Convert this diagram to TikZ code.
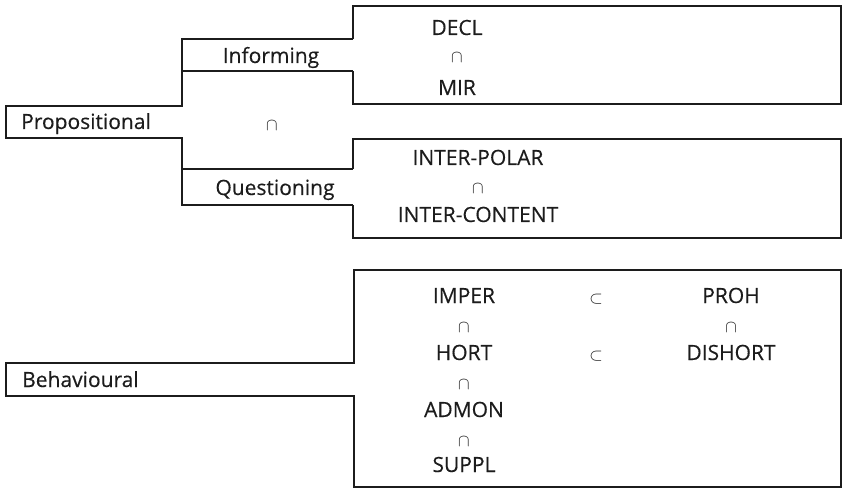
\documentclass[tikz,border=0pt]{standalone}
\usepackage{fontspec}
\setmainfont[FakeBold=0.35]{Open Sans}
\definecolor{ink}{HTML}{1C1C1C}
\begin{document}
\begin{tikzpicture}[x=1pt,y=-1pt,
  rule/.style={line width=2.2pt, draw=ink, line join=miter},
  lbl/.style={inner sep=0pt, anchor=base, text=ink, font=\fontsize{21}{25}\selectfont},
  lbll/.style={lbl, anchor=base west},
  rel/.style={inner sep=0pt, anchor=base, text=ink, font=\fontsize{19}{22}\selectfont}]
\useasboundingbox (0,0) rectangle (843,489);

% ---- Propositional network ----
\coordinate (pTR) at (182,106);
\coordinate (pTL) at (6,106);
\coordinate (pBL) at (6,138);
\coordinate (pBR) at (182,138);
\coordinate (inT) at (182,39);
\coordinate (inTR) at (353,39);
\coordinate (inB) at (182,71);
\coordinate (inBR) at (353,71);
\coordinate (qT) at (182,169);
\coordinate (qTR) at (353,169);
\coordinate (qB) at (182,205);
\coordinate (qBR) at (353,205);

\draw[rule] (inTR) -- (inT) -- (pTR) -- (pTL) -- (pBL) -- (pBR) -- (qB) -- (qBR);
\draw[rule] (inB) -- (inBR);
\draw[rule] (qT) -- (qTR);

% Informing options box
\coordinate (dTL) at (353,6);
\coordinate (dTR) at (841,6);
\coordinate (dBR) at (841,104);
\coordinate (dBL) at (353,104);
\draw[rule] (inTR) -- (dTL) -- (dTR) -- (dBR) -- (dBL) -- (inBR);

% Questioning options box
\coordinate (iTL) at (353,139);
\coordinate (iTR) at (841,139);
\coordinate (iBR) at (841,238);
\coordinate (iBL) at (353,238);
\draw[rule] (qTR) -- (iTL) -- (iTR) -- (iBR) -- (iBL) -- (qBR);

\node[lbll] (prop) at (21,129) {Propositional};
\node[rel]  (pcap) at (272,131) {$\cap$};
\node[lbl]  (inf)  at (271,63) {Informing};
\node[lbl]  (que)  at (275,195) {Questioning};

\node[lbl] (decl) at (457,35) {DECL};
\node[rel] (dcap) at (457,63) {$\cap$};
\node[lbl] (mir)  at (457,95) {MIR};

\node[lbl] (ipol) at (478,165) {INTER-POLAR};
\node[rel] (icap) at (478,194) {$\cap$};
\node[lbl] (icon) at (478,222) {INTER-CONTENT};

% ---- Behavioural network ----
\coordinate (bTR) at (354,363);
\coordinate (bTL) at (6,363);
\coordinate (bBL) at (6,396);
\coordinate (bBR) at (354,396);
\coordinate (xTL) at (354,270);
\coordinate (xTR) at (841,270);
\coordinate (xBR) at (841,487);
\coordinate (xBL) at (354,487);
\draw[rule] (xTL) -- (xTR) -- (xBR) -- (xBL) -- (bBR) -- (bBL) -- (bTL) -- (bTR) -- cycle;

\node[lbll] (beh) at (22,387) {Behavioural};

\node[lbl] (imper) at (464,303) {IMPER};
\node[rel] (c1)    at (464,332) {$\cap$};
\node[lbl] (hort)  at (464,360) {HORT};
\node[rel] (c2)    at (464,389) {$\cap$};
\node[lbl] (admon) at (464,417) {ADMON};
\node[rel] (c3)    at (464,446) {$\cap$};
\node[lbl] (suppl) at (464,472) {SUPPL};

\node[rel] (s1) at (596,303) {$\subset$};
\node[rel] (s2) at (596,360) {$\subset$};

\node[lbl] (proh)    at (731,303) {PROH};
\node[rel] (c4)      at (731,332) {$\cap$};
\node[lbl] (dishort) at (731,360) {DISHORT};
\end{tikzpicture}
\end{document}
